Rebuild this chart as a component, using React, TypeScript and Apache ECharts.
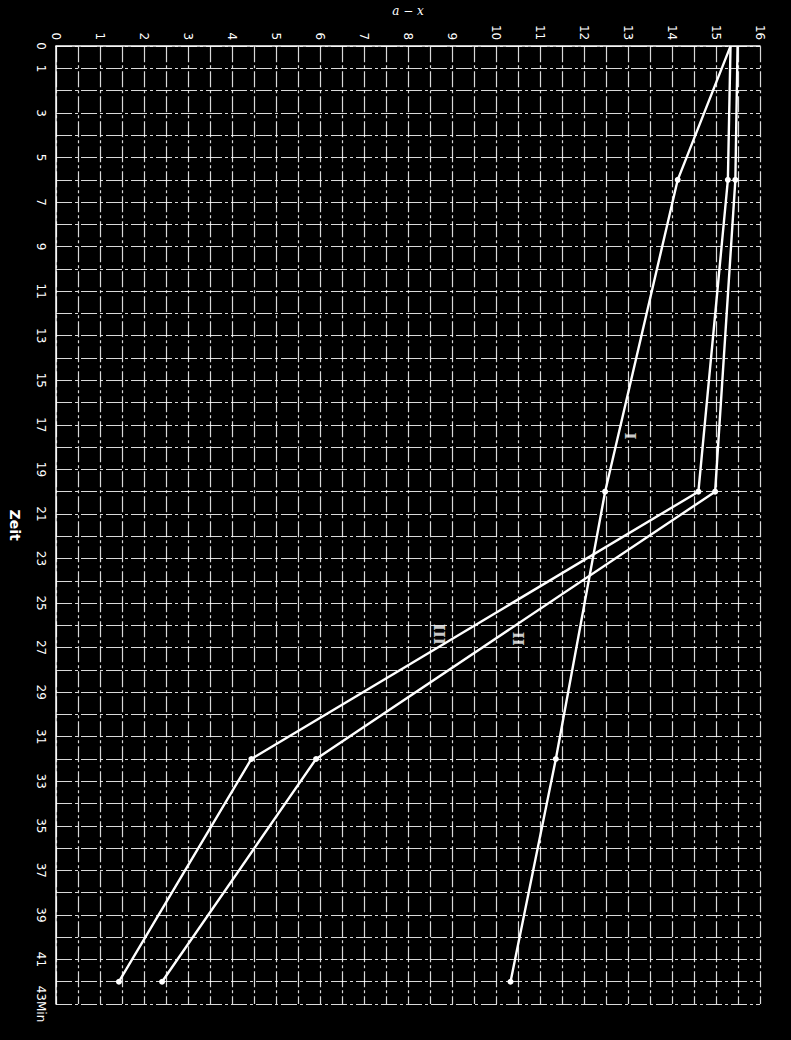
import React, { useEffect, useRef } from "react";
import * as echarts from "echarts";

// Time (Zeit, minutes) of each measurement
const times = [0, 6, 20, 32, 42];
// a − x values for each curve
const seriesI = [15.33, 14.13, 12.48, 11.36, 10.33];
const seriesII = [15.49, 15.44, 14.98, 5.91, 2.41];
const seriesIII = [15.33, 15.27, 14.6, 4.44, 1.43];

// Curve labels (roman numerals) placed at data coordinates [a−x, time]
const curveLabels = ["I", "II", "III"];
const curveLabelX = [13.05, 10.5, 8.7];
const curveLabelT = [17.5, 26.6, 26.4];

// Axis tick labels
const timeTickLabels = ["0", "1", "3", "5", "7", "9", "11", "13", "15", "17", "19", "21", "23", "25", "27", "29", "31", "33", "35", "37", "39", "41", "43Min"];
const timeTickValues = [0, 1, 3, 5, 7, 9, 11, 13, 15, 17, 19, 21, 23, 25, 27, 29, 31, 33, 35, 37, 39, 41, 43];
const axTicks = ["0", "1", "2", "3", "4", "5", "6", "7", "8", "9", "10", "11", "12", "13", "14", "15", "16"];

const gridLine = {
  show: true,
  lineStyle: { color: "rgba(255,255,255,0.85)", width: 1.2, type: [16, 3, 3, 3] as any },
};

function makeSeries(name: string, vals: number[]) {
  return {
    name,
    type: "line",
    data: vals.map((v, i) => ({
      value: [v, times[i]],
      symbol: i === 0 ? "none" : "circle",
      symbolSize: 6,
    })),
    lineStyle: { color: "#fff", width: 2.4 },
    itemStyle: { color: "#fff" },
    showSymbol: true,
    z: 5,
  };
}

export default function App() {
  const ref = useRef<HTMLDivElement>(null);
  useEffect(() => {
    document.body.style.margin = "0";
    document.body.style.background = "#000";
    const chart = echarts.init(ref.current!, null, { renderer: "svg" });
    chart.setOption({
      animation: false,
      backgroundColor: "#000",
      grid: { left: 43, top: 42, right: 31, bottom: 36, containLabel: false },
      xAxis: {
        type: "value",
        position: "top",
        min: 0,
        max: 16,
        interval: 0.5,
        name: "a − x",
        nameLocation: "middle",
        nameGap: 28,
        nameTextStyle: { color: "#fff", fontFamily: "DejaVu Serif", fontStyle: "italic", fontSize: 12 },
        axisLine: { show: true, lineStyle: { color: "#fff", width: 1.5 } },
        axisTick: { show: false },
        splitLine: gridLine,
        axisLabel: {
          color: "#fff",
          fontFamily: "DejaVu Sans",
          fontSize: 12,
          rotate: -90,
          margin: 6,
          formatter: (v: number) => (Number.isInteger(v) ? axTicks[v] : ""),
        },
      },
      yAxis: {
        type: "value",
        inverse: true,
        min: 0,
        max: 43,
        interval: 1,
        name: "Zeit",
        nameLocation: "middle",
        nameGap: 34,
        nameRotate: -90,
        nameTextStyle: { color: "#fff", fontFamily: "DejaVu Sans", fontWeight: "bold", fontSize: 14 },
        axisLine: { show: true, lineStyle: { color: "#fff", width: 1.5 } },
        axisTick: { show: false },
        splitLine: gridLine,
        axisLabel: {
          color: "#fff",
          fontFamily: "DejaVu Sans",
          fontSize: 12,
          rotate: -90,
          margin: 9,
          formatter: (v: number) => {
            const i = timeTickValues.indexOf(v);
            return i >= 0 ? timeTickLabels[i] : "";
          },
        },
      },
      series: [
        makeSeries("I", seriesI),
        makeSeries("II", seriesII),
        makeSeries("III", seriesIII),
        {
          type: "scatter",
          symbolSize: 0,
          data: curveLabels.map((n, i) => ({ value: [curveLabelX[i], curveLabelT[i]], name: n })),
          label: {
            show: true,
            position: "inside",
            formatter: (p: any) => p.name,
            rotate: -90,
            color: "#fff",
            fontFamily: "DejaVu Serif",
            fontWeight: "bold",
            fontSize: 15,
          },
          z: 6,
        },
      ],
    });
    return () => chart.dispose();
  }, []);
  return <div ref={ref} style={{ width: 791, height: 1040 }} />;
}
